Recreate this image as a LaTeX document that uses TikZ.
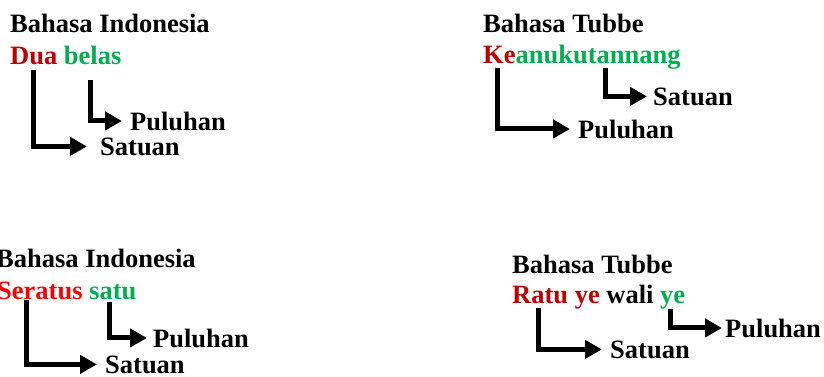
\documentclass[tikz,border=0pt]{standalone}
\usepackage{fontspec}
\setmainfont{Liberation Serif}
\usetikzlibrary{arrows.meta}
\definecolor{dred}{HTML}{C00000}
\definecolor{bred}{HTML}{FF0000}
\definecolor{grn}{HTML}{00B050}
\begin{document}
\begin{tikzpicture}[x=1pt,y=-1pt,
  txt/.style={anchor=base west,inner sep=0pt,font=\fontsize{26.5}{30}\selectfont\bfseries},
  arr/.style={line width=5pt,-{Triangle[length=17pt,width=18pt]}}]
\useasboundingbox (0,0) rectangle (824,376);
% Panel 1
\node[txt] (h1) at (10,32) {Bahasa Indonesia};
\node[txt] (w1) at (10,64) {\textcolor{dred}{Dua} \textcolor{grn}{belas}};
\node[txt] (p1) at (130,130) {Puluhan};
\node[txt] (s1) at (100,155) {Satuan};
\coordinate (a1) at (33,70);
\coordinate (b1) at (90,80);
\draw[arr] (a1) |- ([xshift=-13pt]s1.west);
\draw[arr] (b1) |- ([xshift=-8pt]p1.west);
% Panel 2
\node[txt] (h2) at (483,32) {Bahasa Tubbe};
\node[txt] (w2) at (483,63) {\textcolor{dred}{Ke}\textcolor{grn}{anukutannang}};
\node[txt] (p2) at (578,138) {Puluhan};
\node[txt] (s2) at (653,105) {Satuan};
\coordinate (a2) at (497,68);
\coordinate (b2) at (605,68);
\draw[arr] (a2) |- ([xshift=-8pt]p2.west);
\draw[arr] (b2) |- ([xshift=-6pt]s2.west);
% Panel 3
\node[txt] (h3) at (-4,267) {Bahasa Indonesia};
\node[txt] (w3) at (-3,299) {\textcolor{bred}{Seratus} \textcolor{grn}{satu}};
\node[txt] (p3) at (153,347) {Puluhan};
\node[txt] (s3) at (105,373) {Satuan};
\coordinate (a3) at (26,300);
\coordinate (b3) at (109,302);
\draw[arr] (a3) |- ([xshift=-8pt]s3.west);
\draw[arr] (b3) |- ([xshift=-6pt]p3.west);
% Panel 4
\node[txt] (h4) at (512,273) {Bahasa Tubbe};
\node[txt] (w4) at (512,303) {\textcolor{dred}{Ratu ye} wali \textcolor{grn}{ye}};
\node[txt] (p4) at (725,337) {Puluhan};
\node[txt] (s4) at (610,358) {Satuan};
\coordinate (a4) at (538,308);
\coordinate (b4) at (670,309);
\draw[arr] (a4) |- ([xshift=-8pt]s4.west);
\draw[arr] (b4) |- ([xshift=-3pt]p4.west);
\end{tikzpicture}
\end{document}
